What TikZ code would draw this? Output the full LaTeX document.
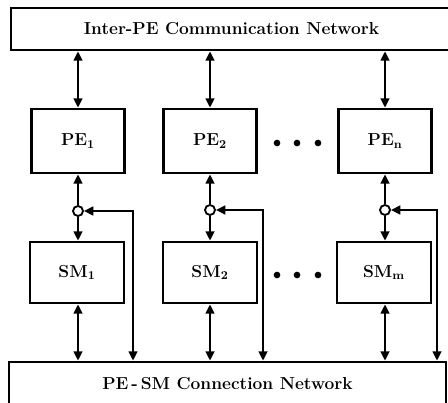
\documentclass[tikz,border=0pt]{standalone}
\usetikzlibrary{arrows.meta}
\begin{document}
\begin{tikzpicture}[x=0.75pt,y=-0.75pt,line width=2pt,
  box/.style={draw,rectangle,inner sep=0pt,font=\fontsize{13}{15}\selectfont\bfseries},
  pebox/.style={box,minimum width=69.75pt,minimum height=48pt},
  smbox/.style={box,minimum width=70.5pt,minimum height=45.75pt},
  tip/.tip={Triangle[length=7pt,width=6.5pt]},
  dbl/.style={tip-tip},
  one/.style={-tip},
  junc/.style={circle,draw,fill=white,inner sep=0pt,minimum size=7.5pt,line width=1.4pt},
  dot/.style={circle,fill,inner sep=0pt,minimum size=5pt}]
\clip (0,0) rectangle (448,402);
\node[box,minimum width=330.75pt,minimum height=31.5pt] (inter) at (231.5,29) {Inter-PE Communication Network};
\node[box,minimum width=327.75pt,minimum height=33pt] (conn) at (227.5,384) {PE\,-\,SM Connection Network};
\node[pebox] (pe1) at (78,141) {PE$_{\mathbf{1}}$};
\node[pebox] (pe2) at (210,141) {PE$_{\mathbf{2}}$};
\node[pebox] (pen) at (385,141) {PE$_{\mathbf{n}}$};
\node[smbox] (sm1) at (77,272.5) {SM$_{\mathbf{1}}$};
\node[smbox] (sm2) at (210,272.5) {SM$_{\mathbf{2}}$};
\node[smbox] (smm) at (384,272.5) {SM$_{\mathbf{m}}$};
\node[dot] (d1) at (277,143) {};
\node[dot] (d2) at (297,143) {};
\node[dot] (d3) at (318,143) {};
\node[dot] (d4) at (277,275) {};
\node[dot] (d5) at (297,275) {};
\node[dot] (d6) at (318,275) {};
\node[junc] (c1) at (78,211) {};
\node[junc] (c2) at (210,210) {};
\node[junc] (cn) at (385,210) {};
\coordinate (f1) at (133,211);
\coordinate (f2) at (263,210);
\coordinate (fn) at (437,210);
\foreach \p/\s/\c/\f in {pe1/sm1/c1/f1,pe2/sm2/c2/f2,pen/smm/cn/fn}{
  \draw[dbl] (inter.south -| \p) -- (\p.north);
  \draw[one] (\c) -- (\p.south);
  \draw[one] (\c) -- (\c |- \s.north);
  \draw[dbl] (\c.east) -- (\f) -- (\f |- conn.north);
  \draw[dbl] (\c |- \s.south) -- (\c |- conn.north);
}
\end{tikzpicture}
\end{document}
